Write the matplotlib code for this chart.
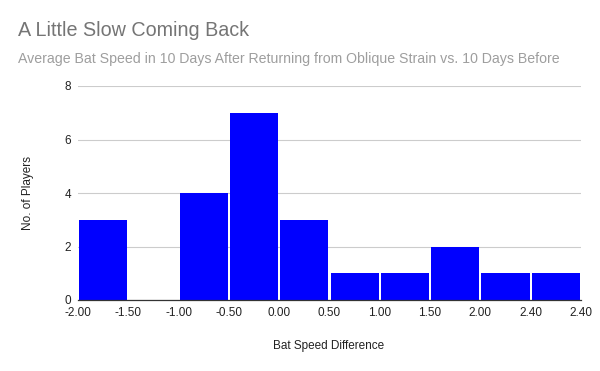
import matplotlib
matplotlib.use("Agg")
import matplotlib.pyplot as plt
import numpy as np

plt.rcParams['font.family'] = ['Liberation Sans', 'DejaVu Sans']

edge_labels = ["-2.00", "-1.50", "-1.00", "-0.50", "0.00", "0.50", "1.00", "1.50", "2.00", "2.40", "2.40"]
counts = [3, 0, 4, 7, 3, 1, 1, 2, 1, 1]
yticks = [0, 2, 4, 6, 8]

fig = plt.figure(figsize=(6, 3.71), dpi=100)
ax = fig.add_axes([78/600, 1-300/371, (581-78)/600, (300-86)/371])

pos = np.arange(len(counts)) + 0.5
ax.bar(pos, counts, width=0.96, color='#0000ff', zorder=3)
ax.set_xlim(0, len(counts))
ax.set_ylim(0, 8)
ax.set_yticks(yticks)
ax.set_yticklabels([str(v) for v in yticks], fontsize=8.5, color='#222222')
ax.set_xticks(np.arange(len(edge_labels)))
ax.set_xticklabels(edge_labels, fontsize=8.5, color='#222222')
ax.tick_params(length=0, pad=5)
ax.grid(axis='y', color='#cccccc', linewidth=0.8, zorder=0)
for s in ['top', 'right', 'left']:
    ax.spines[s].set_visible(False)
ax.spines['bottom'].set_color('#333333')
ax.spines['bottom'].set_linewidth(0.9)
ax.spines['bottom'].set_zorder(4)

fig.text(18/600, 1-31/371, "A Little Slow Coming Back", fontsize=14.2, color='#757575', va='center', ha='left')
fig.text(18/600, 1-59/371, "Average Bat Speed in 10 Days After Returning from Oblique Strain vs. 10 Days Before",
         fontsize=10.2, color='#9e9e9e', va='center', ha='left')
fig.text(28/600, 1-193/371, "No. of Players", fontsize=8.5, color='#222222', rotation=90, va='center', ha='center')
fig.text(329/600, 1-346/371, "Bat Speed Difference", fontsize=8.5, color='#222222', va='center', ha='center')

fig.savefig("out.png", dpi=100)
